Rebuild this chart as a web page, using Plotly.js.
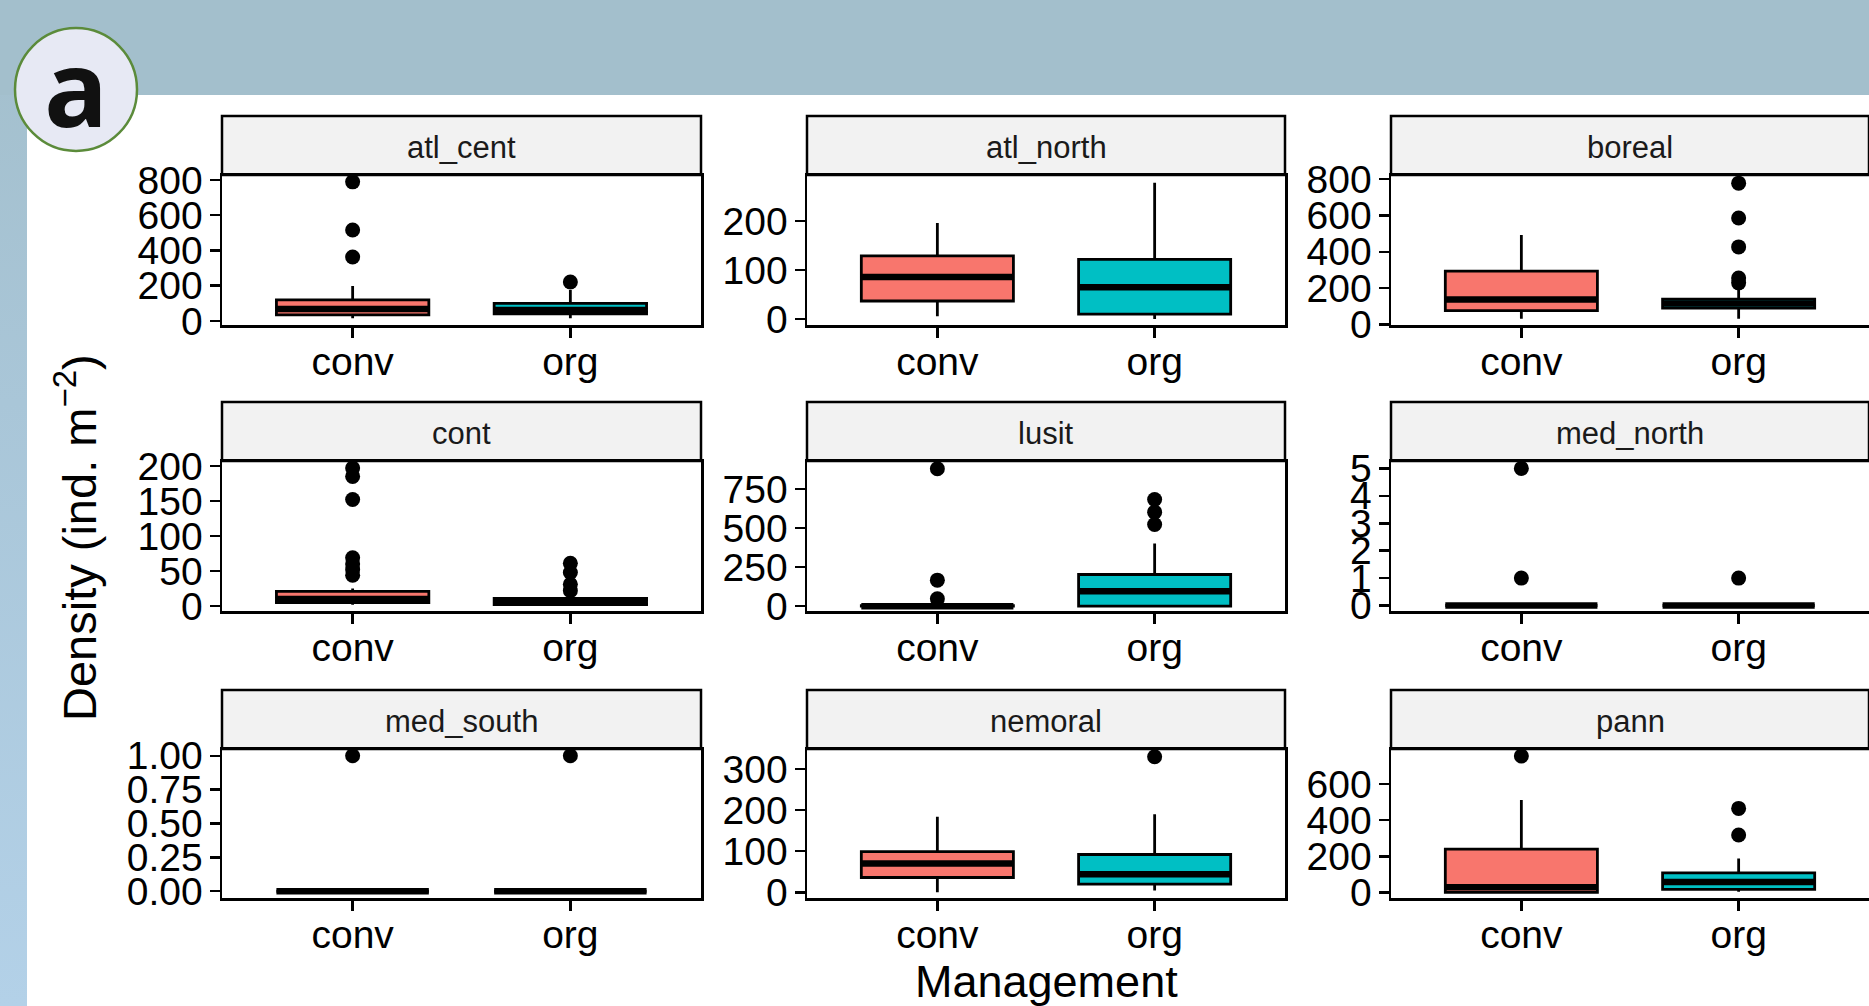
<!DOCTYPE html>
<html><head><meta charset="utf-8">
<script src="https://cdn.plot.ly/plotly-3.0.1.min.js"></script>
<style>
html,body{margin:0;padding:0;background:#fff;}
#chart{width:1869px;height:1006px;background:linear-gradient(to bottom,#a3bfcc 0%,#a9c6d8 40%,#b3d1e8 100%);}
</style>
</head><body><div id="chart"></div>
<script>
// ---- data ----
const regions = ['atl_cent','atl_north','boreal','cont','lusit','med_north','med_south','nemoral','pann'];
const managements = ['conv','org'];

const convQ1     = [35, 37, 76, 5, 0, 0, 0, 36, 0];
const convMedian = [68, 86, 137, 10, 0, 0, 0, 70, 28];
const convQ3     = [120, 129, 294, 21, 3, 0, 0, 99, 240];
const convLower  = [15, 6, 32, 2, 0, 0, 0, 0, 0];
const convUpper  = [198, 196, 492, 25, 6, 0, 0, 184, 512];
const convOutliers = [[363, 516, 789], [], [], [44, 52, 60, 69, 152, 185, 197], [47, 167, 881], [1, 5], [1], [], [755]];

const orgQ1     = [40, 10, 90, 2, 0, 0, 0, 20, 17];
const orgMedian = [62, 65, 115, 6, 96, 0, 0, 44, 57];
const orgQ3     = [100, 122, 140, 11, 203, 0, 0, 92, 108];
const orgLower  = [15, 0, 32, 0, 0, 0, 0, 4, 3];
const orgUpper  = [176, 278, 195, 18, 402, 0, 0, 190, 188];
const orgOutliers = [[221], [], [229, 256, 427, 586, 778], [22, 31, 48, 61], [524, 603, 684], [1], [1], [330], [318, 465]];

const yTickVals = [[0,200,400,600,800],[0,100,200],[0,200,400,600,800],[0,50,100,150,200],[0,250,500,750],[0,1,2,3,4,5],[0,0.25,0.5,0.75,1],[0,100,200,300],[0,200,400,600]];
const yTickText = [['0','200','400','600','800'],['0','100','200'],['0','200','400','600','800'],['0','50','100','150','200'],['0','250','500','750'],['0','1','2','3','4','5'],['0.00','0.25','0.50','0.75','1.00'],['0','100','200','300'],['0','200','400','600']];
const yRanges = [[-23,828],[-12,294],[-3,823],[-7,207],[-31,931],[-0.2,5.27],[-0.05,1.05],[-14,349],[-31,794]];

// ---- styling / layout ----
const W = 1869, H = 1006;
const FONT = '"Liberation Sans", Arial, sans-serif';
const fills = {conv: '#F8766D', org: '#00BFC4'};
const BOXW = 0.7;
const colPx = [[222, 701], [807, 1285], [1391, 1869]];
const rowPx = [[175, 325], [461, 611], [749, 898]]; // panel top,bottom
const stripH = 59;

const px = v => v / W;
const py = v => 1 - v / H;

const traces = [];
const layout = {
  width: W, height: H,
  margin: {l: 0, r: 0, t: 0, b: 0},
  paper_bgcolor: 'rgba(0,0,0,0)',
  plot_bgcolor: '#ffffff',
  showlegend: false,
  boxmode: 'overlay',
  font: {family: FONT, color: '#000'},
  shapes: [],
  annotations: []
};

// background panels
layout.shapes.push({type: 'rect', xref: 'paper', yref: 'paper', x0: 0, x1: 1, y0: py(95), y1: 1,
  fillcolor: '#a3bfcc', line: {width: 0}, layer: 'below'});
layout.shapes.push({type: 'rect', xref: 'paper', yref: 'paper', x0: px(27), x1: 1.01, y0: -0.01, y1: py(95),
  fillcolor: '#ffffff', line: {width: 0}, layer: 'below'});
// badge
layout.shapes.push({type: 'circle', xref: 'paper', yref: 'paper', x0: px(15), x1: px(137), y0: py(151), y1: py(28),
  fillcolor: '#e7e9f4', line: {color: '#5b8b3a', width: 2.5}, layer: 'below'});
layout.annotations.push({xref: 'paper', yref: 'paper', x: px(76), y: py(86), text: '<b>a</b>', showarrow: false,
  xanchor: 'center', yanchor: 'middle', font: {family: '"Open Sans", sans-serif', size: 106, color: '#111'}});

const sets = [
  {g: 'conv', pos: 1, q1: convQ1, med: convMedian, q3: convQ3, lo: convLower, hi: convUpper, out: convOutliers},
  {g: 'org',  pos: 2, q1: orgQ1,  med: orgMedian,  q3: orgQ3,  lo: orgLower,  hi: orgUpper,  out: orgOutliers}
];

regions.forEach((reg, i) => {
  const r = Math.floor(i / 3), c = i % 3;
  const n = i === 0 ? '' : String(i + 1);
  const xa = 'x' + n, ya = 'y' + n;
  const [x0, x1] = colPx[c];
  const [top, bot] = rowPx[r];

  layout['xaxis' + n] = {
    domain: [px(x0), Math.min(1, px(x1))], anchor: ya, range: [0.4, 2.6],
    tickmode: 'array', tickvals: [1, 2], ticktext: managements,
    ticks: 'outside', ticklen: 10, tickwidth: 2.5, tickcolor: '#000',
    showline: true, mirror: true, linecolor: '#000', linewidth: 2.5,
    showgrid: false, zeroline: false, fixedrange: true,
    tickfont: {family: FONT, size: 39, color: '#000'}, ticklabelstandoff: -9
  };
  layout['yaxis' + n] = {
    domain: [py(bot), py(top)], anchor: xa, range: yRanges[i],
    tickmode: 'array', tickvals: yTickVals[i], ticktext: yTickText[i],
    ticks: 'outside', ticklen: 10, tickwidth: 2.5, tickcolor: '#000',
    showline: true, mirror: true, linecolor: '#000', linewidth: 2.5,
    showgrid: false, zeroline: false, fixedrange: true,
    tickfont: {family: FONT, size: 39, color: '#000'}, ticklabelstandoff: -1
  };

  // strip
  layout.shapes.push({type: 'rect', xref: 'paper', yref: 'paper',
    x0: px(x0), x1: px(x1), y0: py(top), y1: py(top - stripH),
    fillcolor: '#f2f2f2', line: {color: '#000', width: 2.5}, layer: 'below'});
  layout.annotations.push({xref: 'paper', yref: 'paper', x: px((x0 + x1) / 2), y: py(top - stripH / 2 + 2),
    text: reg, showarrow: false, xanchor: 'center', yanchor: 'middle',
    font: {family: FONT, size: 31, color: '#1a1a1a'}});

  sets.forEach(s => {
    traces.push({
      type: 'box', xaxis: xa, yaxis: ya, x: [s.pos],
      q1: [s.q1[i]], median: [s.med[i]], q3: [s.q3[i]],
      lowerfence: [s.lo[i]], upperfence: [s.hi[i]],
      width: BOXW, whiskerwidth: 0, boxpoints: false,
      fillcolor: fills[s.g], line: {color: '#000', width: 2.8},
      hoverinfo: 'skip', showlegend: false
    });
    traces.push({
      type: 'scatter', mode: 'lines', xaxis: xa, yaxis: ya,
      x: [s.pos - BOXW / 2, s.pos + BOXW / 2], y: [s.med[i], s.med[i]],
      line: {color: '#000', width: 6.5}, hoverinfo: 'skip', showlegend: false
    });
    if (s.out[i].length) {
      traces.push({
        type: 'scatter', mode: 'markers', xaxis: xa, yaxis: ya,
        x: s.out[i].map(() => s.pos), y: s.out[i],
        marker: {color: '#000', size: 15}, cliponaxis: false,
        hoverinfo: 'skip', showlegend: false
      });
    }
  });
});

// axis titles
layout.annotations.push({xref: 'paper', yref: 'paper', x: px(1046), y: py(981), text: 'Management',
  showarrow: false, xanchor: 'center', yanchor: 'middle', font: {family: FONT, size: 45, color: '#000'}});
layout.annotations.push({xref: 'paper', yref: 'paper', x: px(76), y: py(538), text: 'Density (ind. m<sup>−2</sup>)',
  textangle: -90, showarrow: false, xanchor: 'center', yanchor: 'middle', font: {family: FONT, size: 47, color: '#000'}});

Plotly.newPlot('chart', traces, layout, {staticPlot: true, displayModeBar: false});
</script>
</body></html>
